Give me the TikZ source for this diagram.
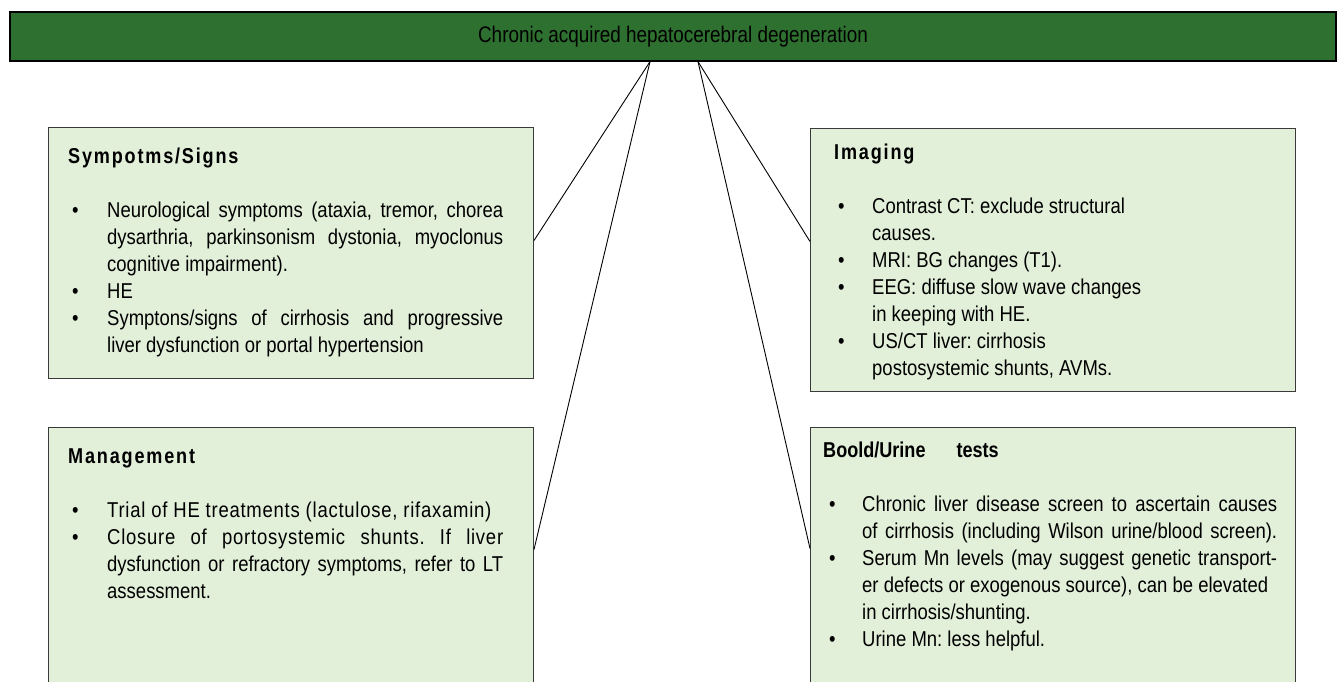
\documentclass[tikz,border=0pt]{standalone}
\usepackage{fontspec}
\setmainfont{Liberation Sans}
\newfontfamily\nar[FakeStretch=0.84]{Liberation Sans}
\newfontfamily\body[FakeStretch=0.86]{Liberation Sans}
\newfontfamily\hdsp[FakeStretch=0.84,LetterSpace=8.5]{Liberation Sans}
\definecolor{bargreen}{HTML}{2E7030}
\definecolor{boxgreen}{HTML}{E2EFD9}
\definecolor{boxline}{HTML}{3A3A3A}
\newcommand\bitem[2][35pt]{\makebox[#1][l]{\textbullet}#2}
\newcommand\contl[2][35pt]{\hspace*{#1}#2}
\newcommand\justl[2][396pt]{\makebox[#1][s]{#2}}
\newcommand\spaced[1]{{\addfontfeature{LetterSpace=3.5}#1}}
\tikzset{
  topbar/.style={draw=black, line width=1.2pt, fill=bargreen, minimum width=1326pt, minimum height=49pt, inner sep=0pt, font=\nar\fontsize{22.5}{27}\selectfont},
  infobox/.style={draw=boxline, line width=1pt, fill=boxgreen, anchor=north west, inner sep=0pt},
  boxtext/.style={anchor=base west, inner sep=0pt, align=left},
  link/.style={draw=black, line width=0.9pt}
}
\begin{document}
\begin{tikzpicture}[x=1pt,y=-1pt]
\useasboundingbox (0,0) rectangle (1337,681);
\clip (0,0) rectangle (1337,681);
\fill[white] (0,0) rectangle (1337,681);
\node[topbar] (bar) at (673,36.5) {Chronic acquired hepatocerebral degeneration};
\node[infobox, minimum width=485pt, minimum height=251pt] (sym) at (48,127) {};
\node[infobox, minimum width=485pt, minimum height=263pt] (img) at (810,128) {};
\node[infobox, minimum width=485pt, minimum height=263pt] (man) at (48,427) {};
\node[infobox, minimum width=485pt, minimum height=263pt] (lab) at (810,427) {};
\node[boxtext] (symt) at (72,163) {\parbox[t]{470pt}{\body\frenchspacing\fontsize{21.5}{27}\selectfont
\hspace*{-4pt}{\hdsp\bfseries Sympotms/Signs}\\
\mbox{}\\
\bitem{\justl{Neurological symptoms (ataxia, tremor, chorea}}\\
\contl{\justl{dysarthria, parkinsonism dystonia, myoclonus}}\\
\contl{cognitive impairment).}\\
\bitem{HE}\\
\bitem{\justl{Symptons/signs of cirrhosis and progressive}}\\
\contl{liver dysfunction or portal hypertension}}};
\node[boxtext] (imgt) at (838,159) {\parbox[t]{450pt}{\body\frenchspacing\fontsize{21.5}{27}\selectfont
\hspace*{-4pt}{\hdsp\bfseries Imaging}\\
\mbox{}\\
\bitem[34pt]{Contrast CT: exclude structural}\\
\contl[34pt]{causes.}\\
\bitem[34pt]{MRI: BG changes (T1).}\\
\bitem[34pt]{EEG: diffuse slow wave changes}\\
\contl[34pt]{in keeping with HE.}\\
\bitem[34pt]{US/CT liver: cirrhosis}\\
\contl[34pt]{postosystemic shunts, AVMs.}}};
\node[boxtext] (mant) at (72,463) {\parbox[t]{470pt}{\body\frenchspacing\fontsize{21.5}{27}\selectfont
\hspace*{-4pt}{\hdsp\bfseries Management}\\
\mbox{}\\
\bitem{\spaced{Trial of HE treatments (lactulose, rifaxamin)}}\\
\bitem{\justl{\spaced{Closure of portosystemic shunts. If liver}}}\\
\contl{\justl{dysfunction or refractory symptoms, refer to LT}}\\
\contl{assessment.}}};
\node[boxtext] (labt) at (829,457) {\parbox[t]{460pt}{\body\frenchspacing\fontsize{21.5}{27}\selectfont
\hspace*{-6pt}{\nar\bfseries Boold/Urine\hspace{31pt}tests}\\
\mbox{}\\
\bitem[33pt]{\justl[415pt]{Chronic liver disease screen to ascertain causes}}\\
\contl[33pt]{\justl[415pt]{of cirrhosis (including Wilson urine/blood screen).}}\\
\bitem[33pt]{\justl[415pt]{Serum Mn levels (may suggest genetic transport-}}\\
\contl[33pt]{er defects or exogenous source), can be elevated}\\
\contl[33pt]{in cirrhosis/shunting.}\\
\bitem[33pt]{Urine Mn: less helpful.}}};
\draw[link] ([xshift=-23pt]bar.south) -- ([yshift=12.5pt]sym.east);
\draw[link] ([xshift=-23pt]bar.south) -- ([yshift=9.5pt]man.east);
\draw[link] ([xshift=25pt]bar.south) -- ([yshift=18.5pt]img.west);
\draw[link] ([xshift=25pt]bar.south) -- ([yshift=10.5pt]lab.west);
\end{tikzpicture}
\end{document}
